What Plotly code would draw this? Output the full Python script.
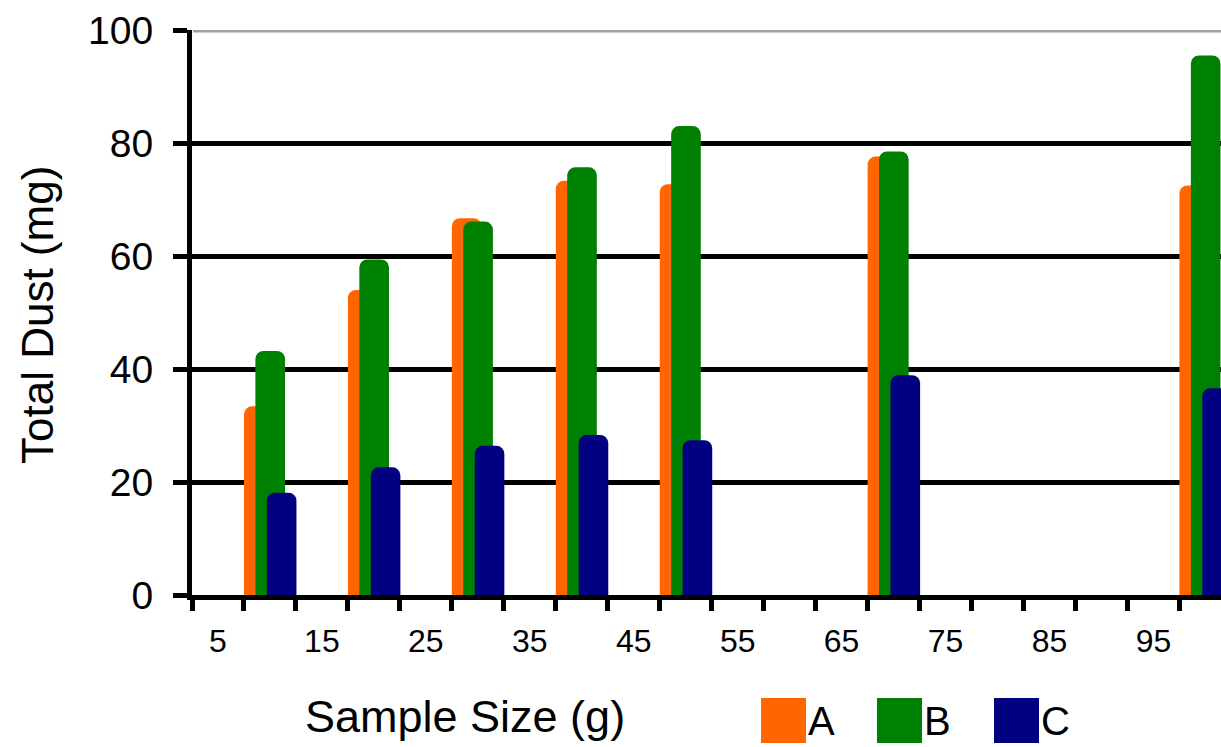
import plotly.graph_objects as go

# ---- data ----
sample_size = [10, 20, 30, 40, 50, 70, 100]
series_names = ["A", "B", "C"]
dust_A = [33.4, 54.0, 66.7, 73.3, 72.7, 77.6, 72.5]
dust_B = [43.2, 59.4, 66.1, 75.7, 83.0, 78.5, 95.5]
dust_C = [18.1, 22.6, 26.4, 28.3, 27.4, 38.9, 36.6]
x_tick_labels = [5, 15, 25, 35, 45, 55, 65, 75, 85, 95]
y_tick_labels = [0, 20, 40, 60, 80, 100]
category_edges = [2.5 + 5 * k for k in range(21)]

colors = ["#FF6600", "#008000", "#000080"]
offsets = [-2.5, -1.4, -0.3]
bar_w = 2.85

W, H = 1221, 747
L, R, T, B = 192, 1221, 30, 595
FONT = "Liberation Sans, Arial, sans-serif"


def px(xp):
    return (xp - L) / (R - L)


def py(yp):
    return (B - yp) / (B - T)


fig = go.Figure()
for name, vals, col, off in zip(series_names, [dust_A, dust_B, dust_C], colors, offsets):
    fig.add_trace(go.Bar(
        x=sample_size, y=vals, name=name,
        marker=dict(color=col, line=dict(width=0), cornerradius=8),
        width=bar_w, offset=off, showlegend=False,
    ))

fig.update_layout(
    width=W, height=H,
    margin=dict(l=L, r=W - R, t=T, b=H - B, pad=0),
    paper_bgcolor="white", plot_bgcolor="white",
    barmode="overlay",
    font=dict(family=FONT, color="black"),
    xaxis=dict(
        range=[2.5, 101.5],
        tickmode="array", tickvals=x_tick_labels,
        ticktext=[str(v) for v in x_tick_labels],
        ticks="", showgrid=False, zeroline=False,
        showline=True, linecolor="black", linewidth=5,
        tickfont=dict(size=32, family=FONT),
        ticklabelstandoff=14,
        minor=dict(tickmode="array", tickvals=category_edges, ticks="outside",
                   ticklen=11, tickwidth=5, tickcolor="black", showgrid=False),
    ),
    yaxis=dict(
        range=[0, 100],
        tickmode="array", tickvals=y_tick_labels,
        ticks="outside", ticklen=14, tickwidth=5, tickcolor="black",
        showgrid=True, gridcolor="black", gridwidth=5,
        zeroline=False, showline=True, linecolor="black", linewidth=5,
        tickfont=dict(size=39, family=FONT),
        ticklabelstandoff=12,
    ),
)

# gray top line at 100
fig.add_shape(type="line", xref="paper", yref="y", x0=px(193), x1=1, y0=100, y1=100,
              line=dict(color="#A0A0A0", width=5), layer="between")

# axis titles
fig.add_annotation(text="Sample Size (g)", xref="paper", yref="paper",
                   x=px(465), y=py(716), xanchor="center", yanchor="middle",
                   showarrow=False, font=dict(size=45, family=FONT, color="black"))
fig.add_annotation(text="Total Dust (mg)", xref="paper", yref="paper",
                   x=px(37), y=py(315), xanchor="center", yanchor="middle",
                   textangle=-90, showarrow=False,
                   font=dict(size=44, family=FONT, color="black"))

# legend (drawn manually: large squares + letters)
legend_left = [761, 877, 994]
for name, col, lx in zip(series_names, colors, legend_left):
    fig.add_shape(type="rect", xref="paper", yref="paper",
                  x0=px(lx), x1=px(lx + 45), y0=py(743), y1=py(698),
                  fillcolor=col, line=dict(width=0))
    fig.add_annotation(text=name, xref="paper", yref="paper",
                       x=px(lx + 45), y=py(721), xanchor="left", yanchor="middle",
                       showarrow=False, font=dict(size=40, family=FONT, color="black"))

fig.write_html("out.html")
